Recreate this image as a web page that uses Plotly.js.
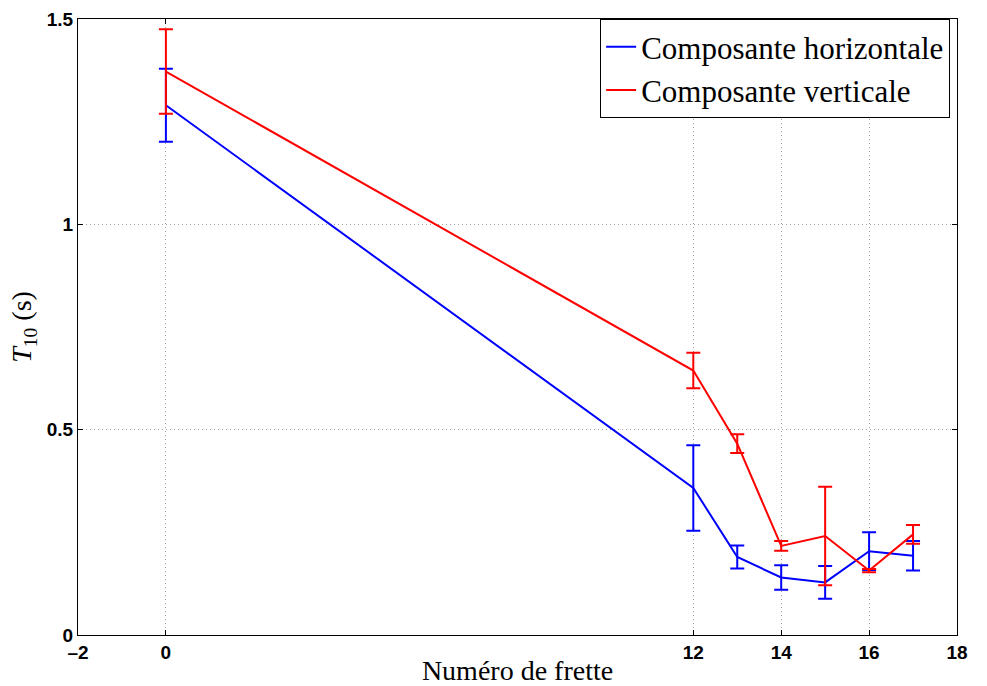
<!DOCTYPE html>
<html>
<head>
<meta charset="utf-8">
<script src="https://cdn.plot.ly/plotly-3.0.1.min.js"></script>
<style>html,body{margin:0;padding:0;background:#fff;}#chart{width:987px;height:686px;}</style>
</head>
<body>
<div id="chart"></div>
<script>
const frettes = [0, 12, 13, 14, 15, 16, 17];
const horizValues = [1.290, 0.358, 0.190, 0.140, 0.128, 0.204, 0.193];
const horizErrors = [0.089, 0.104, 0.028, 0.030, 0.040, 0.046, 0.036];
const vertValues = [1.372, 0.644, 0.466, 0.217, 0.241, 0.157, 0.245];
const vertErrors = [0.103, 0.043, 0.023, 0.012, 0.120, 0.004, 0.023];
const xTicks = [-2, 0, 12, 14, 16, 18];
const yTicks = [0, 0.5, 1, 1.5];
const yTickLabels = ['0', '0.5', '1', '1.5'];
const seriesNames = ['Composante horizontale', 'Composante verticale'];

const serif = 'Liberation Serif, Times New Roman, serif';
const tickFont = {family: 'Liberation Sans, Arial, sans-serif', size: 19, color: '#000', weight: 'bold'};

const traces = [
  {x: frettes, y: horizValues, name: seriesNames[0], type: 'scatter', mode: 'lines',
   line: {color: '#0000ff', width: 2},
   error_y: {type: 'data', array: horizErrors, visible: true, color: '#0000ff', thickness: 2, width: 7}},
  {x: frettes, y: vertValues, name: seriesNames[1], type: 'scatter', mode: 'lines',
   line: {color: '#ff0000', width: 2},
   error_y: {type: 'data', array: vertErrors, visible: true, color: '#ff0000', thickness: 2, width: 7}}
];

const layout = {
  width: 987, height: 686,
  margin: {l: 78, r: 30, t: 19, b: 51},
  paper_bgcolor: '#fff', plot_bgcolor: '#fff',
  showlegend: true,
  legend: {x: 0.594, y: 1, xanchor: 'left', yanchor: 'top', bgcolor: '#fff',
           bordercolor: '#000', borderwidth: 1, tracegroupgap: 0,
           font: {family: serif, size: 31, color: '#000'}},
  xaxis: {range: [-2, 18], tickvals: xTicks, ticktext: xTicks.map(v => v < 0 ? '\u2013' + Math.abs(v) : String(v)),
          tickfont: tickFont, ticks: 'inside', ticklen: 5, tickcolor: '#000',
          showline: true, linecolor: '#000', linewidth: 1, mirror: 'ticks',
          showgrid: true, gridcolor: '#a0a0a0', griddash: '1px,3px', gridwidth: 1, zeroline: false,
          automargin: false,
          title: {text: 'Numéro de frette', font: {family: serif, size: 28, color: '#000'}, standoff: 2}},
  yaxis: {range: [0, 1.5], tickvals: yTicks, ticktext: yTickLabels,
          tickfont: tickFont, ticks: 'inside', ticklen: 5, tickcolor: '#000',
          showline: true, linecolor: '#000', linewidth: 1, mirror: 'ticks',
          showgrid: true, gridcolor: '#a0a0a0', griddash: '1px,3px', gridwidth: 1, zeroline: false,
          automargin: false,
          title: {text: '<i>T</i><sub>10</sub> (s)', font: {family: serif, size: 28, color: '#000'}, standoff: 6}}
};

Plotly.newPlot('chart', traces, layout, {displayModeBar: false, staticPlot: true});
</script>
</body>
</html>
